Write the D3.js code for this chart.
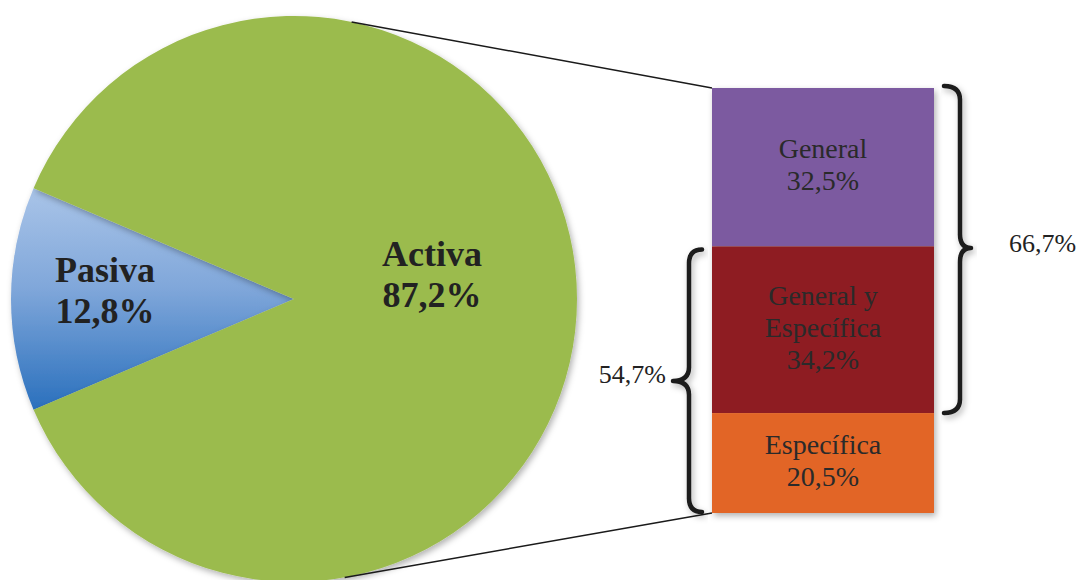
<!DOCTYPE html>
<html><head><meta charset="utf-8">
<script src="https://cdn.jsdelivr.net/npm/d3@7"></script>
<style>html,body{margin:0;padding:0;background:#fff;}svg{display:block;}</style>
</head><body>
<svg id="chart" width="1080" height="580"></svg>
<script>
// ---- data ----
const pieCategories = ["Pasiva", "Activa"];
const pieValues = [12.8, 87.2];
const pieLabels = ["12,8%", "87,2%"];
const barCategories = [["General"], ["General y", "Específica"], ["Específica"]];
const barValues = [32.5, 34.2, 20.5];
const barLabels = ["32,5%", "34,2%", "20,5%"];
const braceLabels = ["66,7%", "54,7%"]; // right brace: General + General y Específica; left: General y Específica + Específica

// ---- layout ----
const svg = d3.select("#chart");
const defs = svg.append("defs");
const grad = defs.append("linearGradient").attr("id", "blueGrad")
  .attr("x1", 0).attr("y1", 0).attr("x2", 0).attr("y2", 1);
grad.append("stop").attr("offset", "0%").attr("stop-color", "#a9c4e8");
grad.append("stop").attr("offset", "45%").attr("stop-color", "#80a7da");
grad.append("stop").attr("offset", "100%").attr("stop-color", "#2a70bd");
const sh = defs.append("filter").attr("id", "shadow").attr("x", "-10%").attr("y", "-10%").attr("width", "130%").attr("height", "130%");
sh.append("feDropShadow").attr("dx", 2).attr("dy", 3).attr("stdDeviation", 3).attr("flood-color", "#000").attr("flood-opacity", 0.3);

const cx = 294, cy = 299, R = 283;
const pieColors = ["url(#blueGrad)", "#9bbb4e"];
const pasivaAngle = pieValues[0] / d3.sum(pieValues) * 2 * Math.PI;
const start = 1.5 * Math.PI - pasivaAngle / 2;
const pie = d3.pie().sort(null).startAngle(start).endAngle(start + 2 * Math.PI);
const arcs = pie(pieValues);
const arc = d3.arc().innerRadius(0).outerRadius(R);

const pieG = svg.append("g").attr("transform", `translate(${cx},${cy})`);
pieG.selectAll("path").data(arcs).join("path")
  .attr("d", arc).attr("fill", (d, i) => pieColors[i]).attr("filter", "url(#shadow)");

// bar
const barX = 712, barW = 222;
const y = d3.scaleLinear().domain([0, d3.sum(barValues)]).range([88, 513]);
const stackStarts = barValues.map((v, i) => d3.sum(barValues.slice(0, i)));
const barColors = ["#7b5aa0", "#8e1f21", "#e26526"];

// connector lines
const aTop = 0.205, aBot = Math.PI - 0.18;
svg.append("line").attr("x1", cx + R * Math.sin(aTop)).attr("y1", cy - R * Math.cos(aTop))
  .attr("x2", barX).attr("y2", y(0)).attr("stroke", "#1a1a1a").attr("stroke-width", 1.5);
svg.append("line").attr("x1", cx + R * Math.sin(aBot)).attr("y1", cy - R * Math.cos(aBot))
  .attr("x2", barX).attr("y2", y(d3.sum(barValues))).attr("stroke", "#1a1a1a").attr("stroke-width", 1.5);

const barG = svg.append("g").attr("filter", "url(#shadow)");
barG.selectAll("rect").data(barValues).join("rect")
  .attr("x", barX).attr("width", barW)
  .attr("y", (d, i) => y(stackStarts[i]))
  .attr("height", (d, i) => y(stackStarts[i] + d) - y(stackStarts[i]))
  .attr("fill", (d, i) => barColors[i]);

// bar labels
const lh = 32;
barValues.forEach((v, i) => {
  const lines = barCategories[i].concat([barLabels[i]]);
  const mid = (y(stackStarts[i]) + y(stackStarts[i] + v)) / 2;
  const t = svg.append("text").attr("text-anchor", "middle")
    .attr("font-family", "'Liberation Serif', serif").attr("font-size", 28).attr("fill", "#2a2a2a");
  lines.forEach((s, j) => {
    t.append("tspan").attr("x", barX + barW / 2)
      .attr("y", mid - (lines.length - 1) * lh / 2 + j * lh + 7).text(s);
  });
});

// pie labels
const pieLabelPos = [[105, 282], [432, 266]];
pieCategories.forEach((c, i) => {
  const t = svg.append("text").attr("text-anchor", "middle")
    .attr("font-family", "'Liberation Serif', serif").attr("font-weight", "bold")
    .attr("font-size", 36).attr("fill", "#222");
  t.append("tspan").attr("x", pieLabelPos[i][0]).attr("y", pieLabelPos[i][1]).text(c);
  t.append("tspan").attr("x", pieLabelPos[i][0]).attr("y", pieLabelPos[i][1] + 41).text(pieLabels[i]);
});

// braces
function bracePath(xEnd, xStem, xTip, y0, ym, y1) {
  const r = 14;
  return `M${xEnd},${y0} Q${xStem},${y0} ${xStem},${y0 + r} L${xStem},${ym - r} Q${xStem},${ym} ${xTip},${ym}` +
    ` Q${xStem},${ym} ${xStem},${ym + r} L${xStem},${y1 - r} Q${xStem},${y1} ${xEnd},${y1}`;
}
const rightTop = y(0), rightBot = y(stackStarts[1] + barValues[1]);
const leftTop = y(stackStarts[1]), leftBot = y(stackStarts[2] + barValues[2]);
svg.append("path").attr("d", bracePath(944, 960, 971, rightTop - 2, 248, rightBot))
  .attr("fill", "none").attr("stroke", "#1a1a1a").attr("stroke-width", 4.5).attr("stroke-linecap", "round")
  .attr("stroke-linejoin", "round").attr("filter", "url(#shadow)");
svg.append("path").attr("d", bracePath(702, 689, 673, leftTop + 3, 381, leftBot - 1))
  .attr("fill", "none").attr("stroke", "#1a1a1a").attr("stroke-width", 4.5).attr("stroke-linecap", "round")
  .attr("stroke-linejoin", "round").attr("filter", "url(#shadow)");

svg.append("text").attr("x", 1009).attr("y", 252).attr("font-family", "'Liberation Serif', serif")
  .attr("font-size", 26).attr("fill", "#222").text(braceLabels[0]);
svg.append("text").attr("x", 666).attr("y", 383).attr("text-anchor", "end").attr("font-family", "'Liberation Serif', serif")
  .attr("font-size", 26).attr("fill", "#222").text(braceLabels[1]);
</script>
</body></html>
